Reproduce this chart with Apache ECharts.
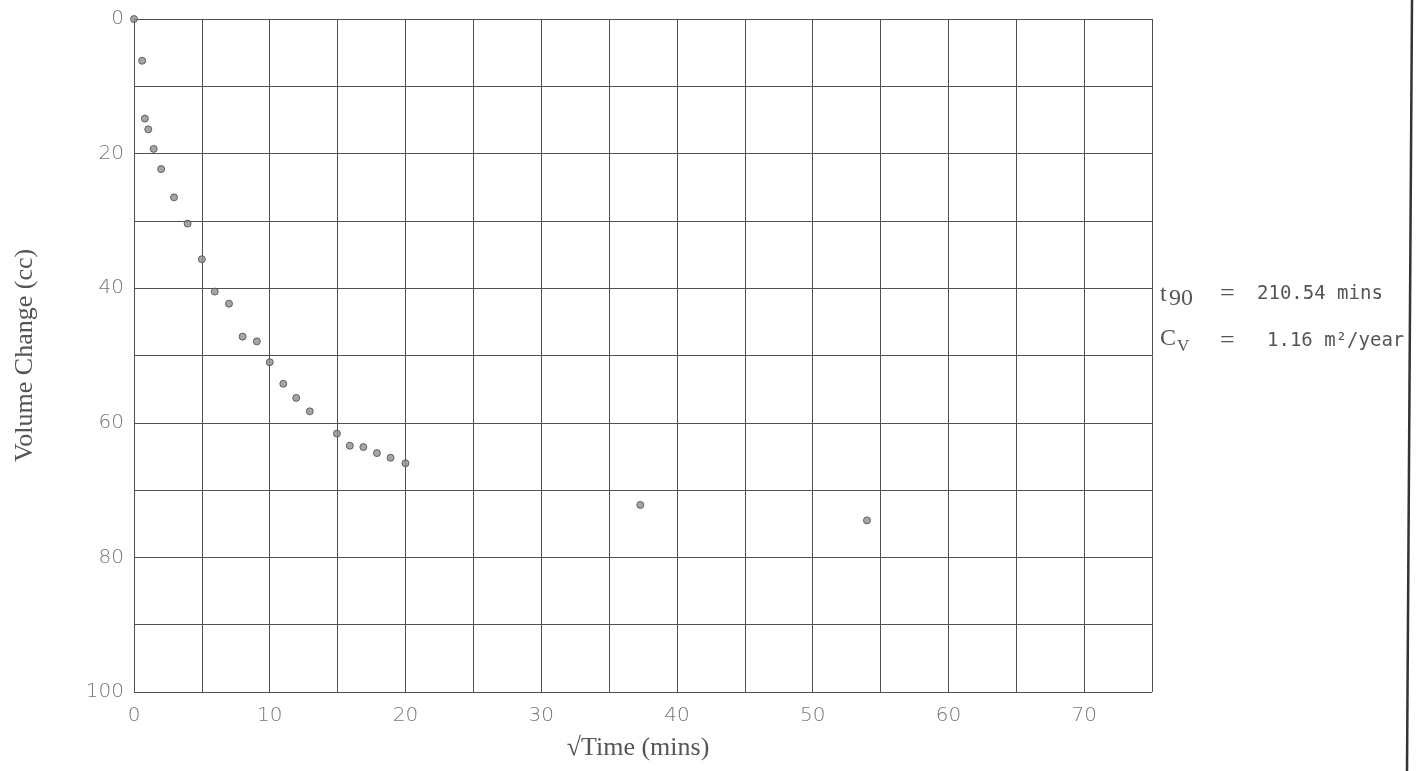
<!DOCTYPE html>
<html>
<head>
<meta charset="utf-8">
<script src="https://cdn.jsdelivr.net/npm/echarts@6/dist/echarts.min.js"></script>
<style>html,body{margin:0;padding:0;background:#fff;}#c{width:1423px;height:771px;}</style>
</head>
<body>
<div id="c"></div>
<script>
// Data
const sqrtTime = [0, 0.6, 0.8, 1.05, 1.45, 2.0, 2.95, 3.95, 5.0, 5.95, 7.0, 8.0, 9.05, 10.0, 11.0, 11.95, 12.95, 14.95, 15.9, 16.9, 17.9, 18.9, 20.0, 37.3, 54.0];
const volumeChange = [0, 6.2, 14.8, 16.4, 19.3, 22.3, 26.5, 30.4, 35.7, 40.5, 42.3, 47.2, 47.9, 51.0, 54.2, 56.3, 58.3, 61.6, 63.4, 63.6, 64.5, 65.2, 66.0, 72.2, 74.5];
const xTickLabels = [0, 10, 20, 30, 40, 50, 60, 70];
const yTickLabels = [0, 20, 40, 60, 80, 100];
const t90Text = '210.54 mins';
const cvText = '1.16 m\u00B2/year';

const points = sqrtTime.map((x, i) => [x, volumeChange[i]]);
const chart = echarts.init(document.getElementById('c'), null, {renderer: 'canvas'});
const tickFont = {color: '#777', fontFamily: 'DejaVu Sans', fontWeight: 200, fontSize: 20};
const gridLine = {lineStyle: {color: '#505050', width: 1}};
const serif = 'Liberation Serif';
const mono = 'DejaVu Sans Mono';
chart.setOption({
  animation: false,
  backgroundColor: '#fff',
  grid: {left: 134, right: 271, top: 19, bottom: 79, containLabel: false},
  xAxis: {
    type: 'value', min: 0, max: 75, interval: 5,
    name: '\u221ATime (mins)', nameLocation: 'middle', nameGap: 43,
    nameTextStyle: {fontFamily: serif, fontSize: 26, color: '#555', padding: [0, 10, 0, 0]},
    axisLine: {show: true, lineStyle: {color: '#505050', width: 1}},
    axisTick: {show: false},
    splitLine: Object.assign({show: true}, gridLine),
    axisLabel: Object.assign({margin: 14, formatter: v => xTickLabels.includes(v) ? String(v) : ''}, tickFont)
  },
  yAxis: {
    type: 'value', min: 0, max: 100, interval: 10, inverse: true,
    name: 'Volume Change (cc)', nameLocation: 'middle', nameGap: 96, nameRotate: 90,
    nameTextStyle: {fontFamily: serif, fontSize: 26, color: '#555'},
    axisLine: {show: true, lineStyle: {color: '#505050', width: 1}},
    axisTick: {show: false},
    splitLine: Object.assign({show: true}, gridLine),
    axisLabel: Object.assign({margin: 10, formatter: v => yTickLabels.includes(v) ? String(v) : ''}, tickFont)
  },
  series: [{
    type: 'scatter', data: points, symbol: 'circle', symbolSize: 7,
    itemStyle: {color: '#8f8f8f', borderColor: '#4a4a4a', borderWidth: 1}
  }],
  graphic: [
    {type: 'line', shape: {x1: 1412, y1: 0, x2: 1407, y2: 771}, style: {stroke: '#333', lineWidth: 2.5}},
    {type: 'text', x: 1160, y: 295, style: {text: 't', font: '24px ' + serif, fill: '#555', verticalAlign: 'middle'}},
    {type: 'text', x: 1169, y: 299, style: {text: '90', font: '24px ' + serif, fill: '#555', verticalAlign: 'middle'}},
    {type: 'text', x: 1220, y: 294, style: {text: '=', font: '26px ' + serif, fill: '#555', verticalAlign: 'middle'}},
    {type: 'text', x: 1257, y: 294, style: {text: t90Text, font: '19px ' + mono, fill: '#555', verticalAlign: 'middle'}},
    {type: 'text', x: 1160, y: 339, style: {text: 'C', font: '24px ' + serif, fill: '#555', verticalAlign: 'middle'}},
    {type: 'text', x: 1177, y: 347, style: {text: 'V', font: '17px ' + serif, fill: '#555', verticalAlign: 'middle'}},
    {type: 'text', x: 1220, y: 341, style: {text: '=', font: '26px ' + serif, fill: '#555', verticalAlign: 'middle'}},
    {type: 'text', x: 1267, y: 341, style: {text: cvText, font: '19px ' + mono, fill: '#555', verticalAlign: 'middle'}}
  ]
});
</script>
</body>
</html>
